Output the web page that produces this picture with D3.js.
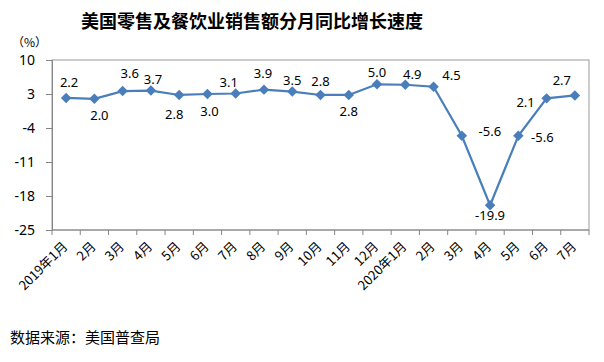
<!DOCTYPE html>
<html>
<head>
<meta charset="utf-8">
<script src="https://cdn.jsdelivr.net/npm/d3@7"></script>
<style>
  body { margin: 0; background: #fff; }
  text { font-family: "Noto Sans CJK SC", "Noto Sans", sans-serif; fill: #000; }
</style>
</head>
<body>
<svg id="chart" width="604" height="362"></svg>
<script>
// categories and values
let months = ["2019年1月", "2月", "3月", "4月", "5月", "6月", "7月", "8月", "9月", "10月", "11月", "12月",
    "2020年1月", "2月", "3月", "4月", "5月", "6月", "7月"];
let growth = [2.2, 2.0, 3.6, 3.7, 2.8, 3.0, 3.1, 3.9, 3.5, 2.8, 2.8, 5.0, 4.9, 4.5, -5.6, -19.9, -5.6, 2.1, 2.7];
let yTicks = [10, 3, -4, -11, -18, -25];

// where each value label sits relative to its point (as in the original)
let labelShift = [[3, -15], [5, 17], [7, -18], [2, -11], [-5, 19], [2, 17], [-7, -11], [-1, -16], [0, -11],
    [0, -14], [0, 16], [0, -12], [7, -10], [18, -11], [28, -4], [0, 10], [24, 2], [-21, 4], [-13, -15]];

let svg = d3.select("#chart");
let margin = { left: 52, right: 15, top: 60, bottom: 132 };
let width = 604, height = 362;

let x = d3.scaleBand()
    .domain(d3.range(months.length))
    .range([margin.left, width - margin.right]);

let y = d3.scaleLinear()
    .domain([-25, 10])
    .range([height - margin.bottom, margin.top]);

// title
svg.append("text")
    .attr("x", 252)
    .attr("y", 28)
    .attr("text-anchor", "middle")
    .style("font-size", "18px")
    .style("font-weight", "bold")
    .text("美国零售及餐饮业销售额分月同比增长速度");

svg.append("text")
    .attr("x", 12)
    .attr("y", 47)
    .style("font-size", "12px")
    .text("（%）");

// plot frame
svg.append("rect")
    .attr("x", margin.left)
    .attr("y", margin.top)
    .attr("width", width - margin.right - margin.left)
    .attr("height", height - margin.bottom - margin.top)
    .attr("fill", "none")
    .attr("stroke", "#9a9a9a");

// y axis
let yAxis = svg.append("g")
    .attr("transform", "translate(" + margin.left + ",0)")
    .call(d3.axisLeft(y).tickValues(yTicks).tickSize(6).tickPadding(11)
        .tickFormat(function(d) { return String(d); }));
yAxis.select(".domain").attr("stroke", "#868686");
yAxis.selectAll(".tick line").attr("stroke", "#868686");
yAxis.selectAll(".tick text").style("font-size", "14px").style("font-family", "'Noto Sans', sans-serif");

// x axis
let xAxis = svg.append("g")
    .attr("transform", "translate(0," + y(-25) + ")");
xAxis.append("line")
    .attr("x1", margin.left).attr("x2", width - margin.right)
    .attr("stroke", "#868686");
xAxis.selectAll(".xtick")
    .data(d3.range(months.length + 1))
    .enter().append("line")
    .attr("x1", function(d) { return margin.left + d * x.step(); })
    .attr("x2", function(d) { return margin.left + d * x.step(); })
    .attr("y1", 0).attr("y2", 5)
    .attr("stroke", "#868686");
xAxis.selectAll(".xlabel")
    .data(months)
    .enter().append("text")
    .attr("text-anchor", "end")
    .attr("transform", function(d, i) {
        return "translate(" + (x(i) + x.bandwidth() / 2 - 1) + ",14) rotate(-45)";
    })
    .attr("dy", "0.35em")
    .style("font-size", "13px")
    .text(function(d) { return d; });

// line
let line = d3.line()
    .x(function(d, i) { return x(i) + x.bandwidth() / 2; })
    .y(function(d) { return y(d); });

svg.append("path")
    .datum(growth)
    .attr("d", line)
    .attr("fill", "none")
    .attr("stroke", "#4a7ebb")
    .attr("stroke-width", 2.2);

svg.selectAll(".marker")
    .data(growth)
    .enter().append("path")
    .attr("class", "marker")
    .attr("d", d3.symbol().type(d3.symbolDiamond2).size(70))
    .attr("transform", function(d, i) {
        return "translate(" + (x(i) + x.bandwidth() / 2) + "," + y(d) + ")";
    })
    .attr("fill", "#4a7ebb");

svg.selectAll(".vlabel")
    .data(growth)
    .enter().append("text")
    .attr("x", function(d, i) { return x(i) + x.bandwidth() / 2 + labelShift[i][0]; })
    .attr("y", function(d, i) { return y(d) + labelShift[i][1]; })
    .attr("text-anchor", "middle")
    .attr("dy", "0.35em")
    .style("font-size", "13px")
    .style("font-family", "'Noto Sans', sans-serif")
    .text(function(d) { return d.toFixed(1); });

// source
svg.append("text")
    .attr("x", 10)
    .attr("y", 343)
    .style("font-size", "15px")
    .text("数据来源：美国普查局");
</script>
</body>
</html>
